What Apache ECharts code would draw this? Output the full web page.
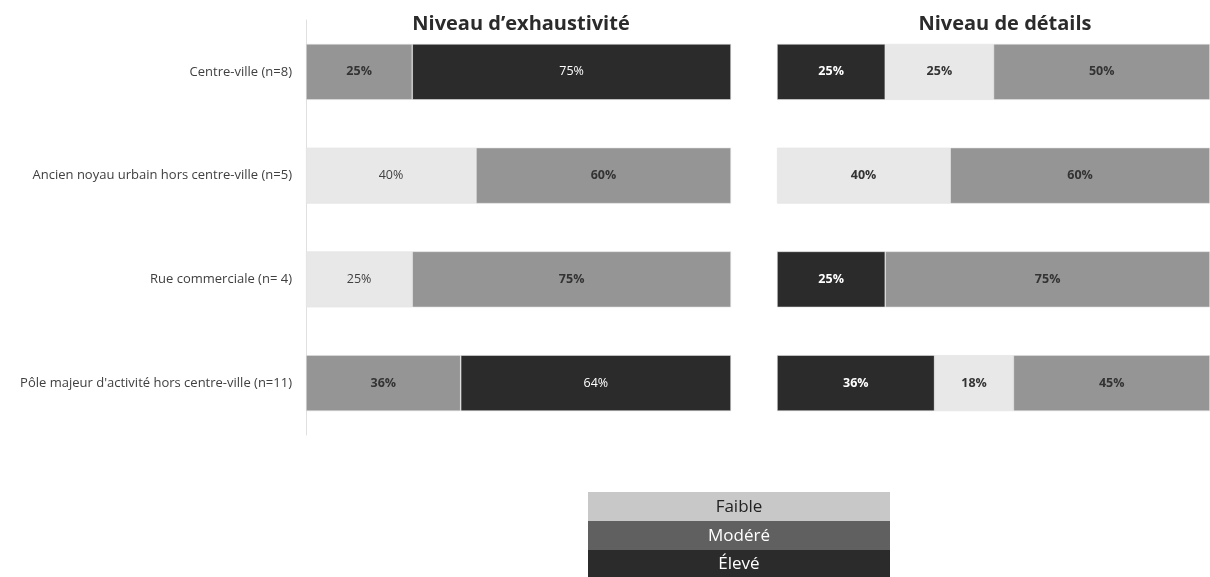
<!DOCTYPE html>
<html><head><meta charset="utf-8">
<script src="https://cdn.jsdelivr.net/npm/echarts@6/dist/echarts.min.js"></script>
<style>html,body{margin:0;padding:0;background:#fff}#c{width:1210px;height:577px}</style>
</head><body><div id="c"></div>
<script>
var categories = ['Centre-ville (n=8)', 'Ancien noyau urbain hors centre-ville (n=5)', 'Rue commerciale (n= 4)', "Pôle majeur d'activité hors centre-ville (n=11)"];
var titles = ["Niveau d’exhaustivité", 'Niveau de détails'];
// Niveau d'exhaustivité (%)
var exhFaible = [null, 40, 25, null];
var exhModere = [25, 60, 75, 36.4];
var exhEleve = [75, null, null, 63.6];
// Niveau de détails (%)
var detEleve = [25, null, 25, 36.4];
var detFaible = [25, 40, null, 18.2];
var detModere = [50, 60, 75, 45.4];
var legendLabels = ['Faible', 'Modéré', 'Élevé'];

var FONT = 'Open Sans';
var C_LIGHT = '#e8e8e8', C_MED = '#959595', C_DARK = '#2b2b2b';

function ser(name, data, idx, color, lblColor, bold) {
  return {
    name: name, type: 'bar', stack: 's' + idx, xAxisIndex: idx, yAxisIndex: idx,
    data: data, barWidth: 56,
    itemStyle: { color: color, borderColor: '#e2e2e2', borderWidth: 0.6 },
    label: { show: true, position: 'inside',
      formatter: function (p) { return Math.round(p.value) + '%'; },
      color: lblColor, fontFamily: FONT, fontSize: 12.5, fontWeight: bold ? 'bold' : 'normal' },
    emphasis: { disabled: true }, animation: false
  };
}

var chart = echarts.init(document.getElementById('c'));
chart.setOption({
  animation: false,
  title: [
    { text: titles[0], left: 516, top: 9, textAlign: 'center',
      textStyle: { fontFamily: FONT, fontSize: 20, fontWeight: 'bold', color: '#2b2b2b' } },
    { text: titles[1], left: 1000, top: 9, textAlign: 'center',
      textStyle: { fontFamily: FONT, fontSize: 20, fontWeight: 'bold', color: '#2b2b2b' } }
  ],
  grid: [
    { left: 306, width: 425, top: 20, height: 415 },
    { left: 777, width: 442, top: 20, height: 415 }
  ],
  xAxis: [
    { gridIndex: 0, type: 'value', min: 0, max: 100, show: false },
    { gridIndex: 1, type: 'value', min: 0, max: 100, show: false }
  ],
  yAxis: [
    { gridIndex: 0, type: 'category', data: categories, inverse: true,
      axisLine: { show: true, lineStyle: { color: '#e0e0e0', width: 1 } },
      axisTick: { show: false },
      axisLabel: { fontFamily: FONT, fontSize: 13, color: '#404040', margin: 14 } },
    { gridIndex: 1, type: 'category', data: categories, inverse: true, show: false }
  ],
  series: [
    ser('Faible', exhFaible, 0, C_LIGHT, '#404040', false),
    ser('Modéré', exhModere, 0, C_MED, '#333333', true),
    ser('Élevé', exhEleve, 0, C_DARK, '#ffffff', false),
    ser('Élevé', detEleve, 1, C_DARK, '#ffffff', true),
    ser('Faible', detFaible, 1, C_LIGHT, '#333333', true),
    ser('Modéré', detModere, 1, C_MED, '#333333', true)
  ],
  graphic: [
    { type: 'rect', left: 588, top: 492, shape: { width: 302, height: 29 }, style: { fill: '#c8c8c8' }, silent: true },
    { type: 'rect', left: 588, top: 521, shape: { width: 302, height: 29 }, style: { fill: '#606060' }, silent: true },
    { type: 'rect', left: 588, top: 550, shape: { width: 302, height: 27 }, style: { fill: '#2b2b2b' }, silent: true },
    { type: 'text', x: 739, y: 507, style: { text: legendLabels[0], fill: '#222', font: '17px "' + FONT + '"', textAlign: 'center', textVerticalAlign: 'middle' }, silent: true },
    { type: 'text', x: 739, y: 536, style: { text: legendLabels[1], fill: '#fff', font: '17px "' + FONT + '"', textAlign: 'center', textVerticalAlign: 'middle' }, silent: true },
    { type: 'text', x: 739, y: 564, style: { text: legendLabels[2], fill: '#fff', font: '17px "' + FONT + '"', textAlign: 'center', textVerticalAlign: 'middle' }, silent: true }
  ]
});
</script></body></html>
